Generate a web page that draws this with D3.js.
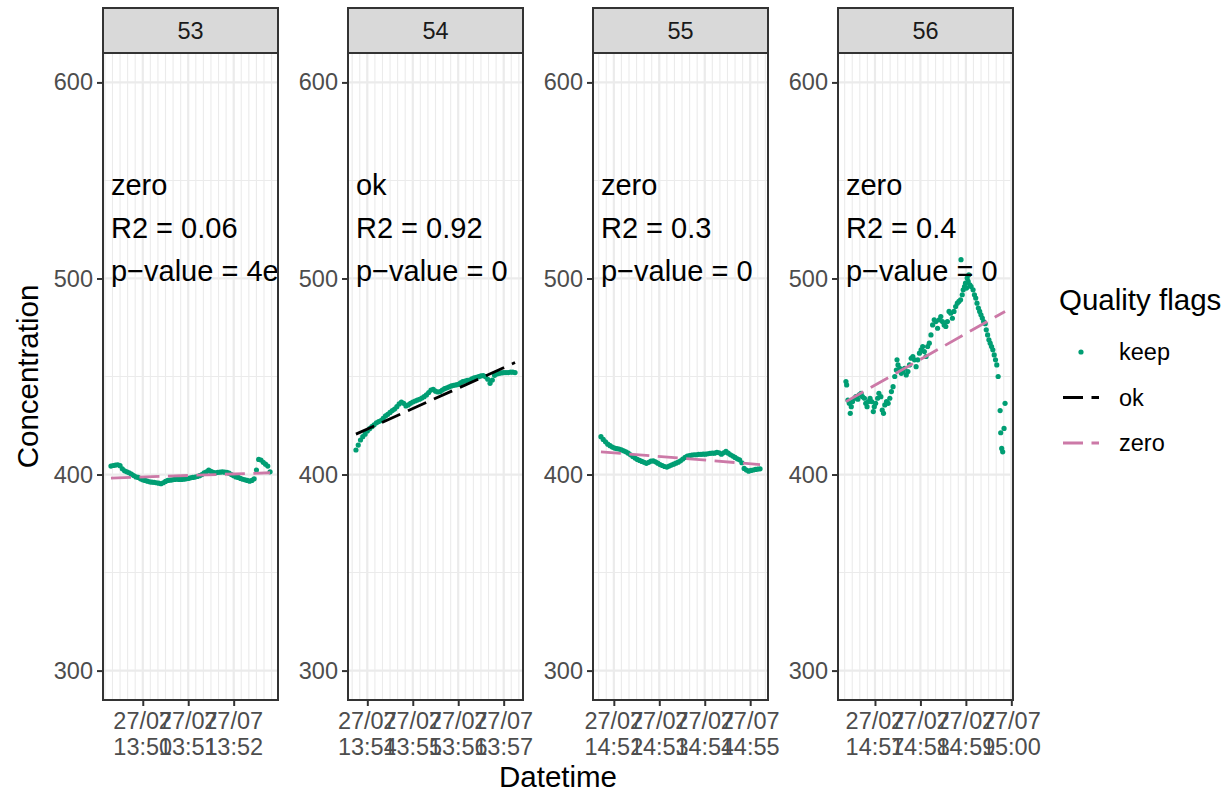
<!DOCTYPE html>
<html>
<head>
<meta charset="utf-8">
<script src="https://cdn.jsdelivr.net/npm/d3@7"></script>
<style>
  body { margin: 0; background: #ffffff; }
  text { font-family: "Liberation Sans", Arial, Helvetica, sans-serif; }
</style>
</head>
<body>
<svg id="chart" width="1227" height="793"></svg>
<script>
// ---- data -------------------------------------------------------------
const panelIds = ["53", "54", "55", "56"];
const flagLabels = ["zero", "ok", "zero", "zero"];
const r2Labels = ["0.06", "0.92", "0.3", "0.4"];
const pLabels = ["4e\u221204", "0", "0", "0"];

// regularly sampled chambers (one reading every 3 s)
const sampleStart53 = "2023-07-27T13:49:18Z";
const sampleStart54 = "2023-07-27T13:53:45Z";
const sampleStart55 = "2023-07-27T14:51:43Z";
const sampleStepSec = 3;

const conc53 = [
  404.3,404.6,404.8,405.0,404.5,402.9,401.9,401.4,400.9,400.2,
  399.5,398.8,398.5,397.8,397.3,397.0,396.6,396.3,396.1,396.0,
  395.8,395.6,395.3,395.8,396.5,397.0,397.1,397.3,397.5,397.6,
  397.5,397.5,397.6,397.8,398.0,398.3,398.5,398.7,399.0,399.4,
  400.0,400.9,401.4,402.3,401.6,401.1,400.9,401.1,401.2,401.4,
  401.2,401.1,400.7,400.0,399.4,398.8,398.5,398.0,397.6,397.3,
  397.0,396.6,397.0,397.8,402.3,407.7,407.4,406.2,405.3,404.3,
  401.4
];
const conc54 = [
  412.5,415.0,417.6,419.3,420.6,422.2,423.4,424.4,425.4,426.4,
  427.0,427.5,428.7,429.9,430.7,431.7,432.6,433.4,434.6,436.0,
  437.0,436.3,435.0,435.5,436.3,437.0,437.5,438.0,438.4,439.0,
  439.7,440.6,441.8,443.1,443.5,442.5,442.1,442.3,443.1,443.8,
  444.2,444.7,445.2,445.5,445.7,446.0,446.7,447.4,447.7,448.1,
  448.2,448.8,449.3,449.6,449.9,450.3,450.5,449.9,448.6,446.5,
  448.2,450.6,451.3,451.6,451.8,452.0,452.0,452.0,452.2,452.2,
  452.0
];
const conc55 = [
  419.3,417.9,416.7,415.5,414.7,414.0,413.5,413.2,413.0,412.6,
  412.1,411.6,410.9,410.1,409.2,408.4,407.7,407.2,406.7,406.2,
  405.7,406.2,406.8,407.0,406.5,405.8,405.1,404.6,404.1,403.8,
  404.3,404.8,405.3,405.8,406.3,407.0,407.9,408.7,409.4,409.7,
  409.9,410.1,410.1,410.3,410.3,410.4,410.4,410.6,410.8,410.9,
  410.9,411.3,411.1,410.4,411.1,411.8,410.9,410.1,409.4,408.7,
  408.0,407.5,406.0,403.1,402.3,401.7,402.1,402.3,402.6,402.8,
  402.9
];

// chamber 56: irregular readings, seconds after its start time
const sampleStart56 = "2023-07-27T14:56:20Z";
const offsets56 = [
  1.7,2.6,4.3,6.1,7.4,8.7,10.4,13.0,14.8,17.4,
  19.1,21.7,23.5,26.1,27.8,29.6,31.3,33.5,35.6,37.8,
  39.1,40.9,43.5,45.2,47.8,49.6,51.3,53.0,55.2,57.4,
  59.6,61.7,63.9,66.1,68.2,69.1,70.4,72.6,74.8,76.9,
  79.1,81.3,83.5,85.6,87.8,90.0,92.2,94.3,96.5,98.7,
  100.9,103.0,105.2,107.4,109.5,111.7,113.9,116.1,118.2,120.4,
  122.6,124.8,126.9,129.1,131.3,133.5,135.6,137.8,140.0,142.2,
  144.3,146.5,148.7,150.8,153.0,153.6,155.2,156.5,158.2,159.5,
  160.8,161.7,163.0,163.9,165.2,166.9,169.5,171.3,173.0,174.7,
  176.5,178.2,179.9,181.7,183.4,185.6,186.9,188.7,190.4,192.1,
  193.9,195.6,197.4,199.1,200.8,202.6,205.2,206.0,207.3,208.6,
  210.4,211.7
];
const conc56 = [
  447.4,445.7,438.0,436.3,431.2,434.6,437.2,438.9,439.7,438.4,
  440.6,441.4,439.7,438.9,436.3,434.6,437.2,438.9,437.2,432.1,
  434.6,436.3,438.9,441.4,439.7,432.9,431.2,435.5,437.2,436.3,
  438.9,442.3,444.8,450.0,453.3,458.5,455.9,454.2,451.6,452.5,
  454.2,450.8,452.5,455.9,459.3,460.2,458.5,455.0,458.5,461.9,
  463.6,465.3,462.7,460.2,465.3,467.0,471.2,476.3,478.9,478.0,
  474.6,478.9,480.6,478.0,476.3,475.5,478.0,483.2,482.3,479.7,
  483.2,485.7,487.4,488.3,489.1,509.6,491.7,494.2,495.9,497.6,
  495.1,500.2,498.5,501.9,496.8,495.9,494.2,491.7,490.0,487.4,
  484.9,483.2,481.5,479.8,478.0,476.9,473.8,471.2,468.7,467.0,
  465.3,463.6,461.0,458.5,455.9,450.0,432.6,421.3,413.3,411.6,
  423.5,436.3
];

// linear fit evaluated at the first and last reading of each chamber
const fitStart = [398.2, 420.6, 411.6, 437.2];
const fitEnd   = [400.9, 457.1, 405.1, 483.2];

const yLimits = [300, 600];
const yTicks = [300, 400, 500, 600];
const yMinorTicks = [350, 450, 550];
const legendKeys = ["keep", "ok", "zero"];

// ---- styling ----------------------------------------------------------
const colKeep = "#009E73";
const flagColour = { ok: "#000000", zero: "#CC79A7" };
const gridCol = "#EBEBEB";
const frameCol = "#333333";
const tickTextCol = "#4D4D4D";
const dash = "20,8.5";
const tickFont = 23.5, titleFont = 29.5, annFont = 29;
const dotR = 2.6;

const panelW = 175, panelStep = 245, firstLeft = 103;
const panelTop = 53, panelBottom = 700, stripTop = 8;

// ---- assemble the series ---------------------------------------------
function regular(startIso, values) {
  const t0 = new Date(startIso).getTime();
  return values.map((v, i) => ({ t: new Date(t0 + i * sampleStepSec * 1000), v }));
}
const series = [
  regular(sampleStart53, conc53),
  regular(sampleStart54, conc54),
  regular(sampleStart55, conc55),
  offsets56.map((s, i) => ({ t: new Date(new Date(sampleStart56).getTime() + s * 1000), v: conc56[i] }))
];

const svg = d3.select("#chart");
svg.append("rect").attr("width", 1227).attr("height", 793).attr("fill", "#fff");

const ySpan = yLimits[1] - yLimits[0];
const y = d3.scaleLinear()
  .domain([yLimits[0] - 0.05 * ySpan, yLimits[1] + 0.05 * ySpan])
  .range([panelBottom, panelTop]);

const fmtDay = d3.utcFormat("%d/%m");
const fmtTime = d3.utcFormat("%H:%M");

panelIds.forEach((id, k) => {
  const data = series[k];
  const left = firstLeft + k * panelStep;
  const ext = d3.extent(data, d => d.t);
  const span = ext[1] - ext[0];
  const x = d3.scaleUtc()
    .domain([new Date(+ext[0] - 0.05 * span), new Date(+ext[1] + 0.05 * span)])
    .range([left, left + panelW]);

  const g = svg.append("g");
  const clipId = "clip" + id;
  svg.append("clipPath").attr("id", clipId)
    .append("rect").attr("x", left).attr("y", panelTop)
    .attr("width", panelW).attr("height", panelBottom - panelTop);

  // grid
  const grid = g.append("g");
  const minorX = x.ticks(d3.utcSecond.every(10));
  const majorX = x.ticks(d3.utcMinute.every(1));
  grid.selectAll(".vx").data(minorX).join("line")
    .attr("x1", d => x(d)).attr("x2", d => x(d))
    .attr("y1", panelTop).attr("y2", panelBottom)
    .attr("stroke", gridCol).attr("stroke-width", 1.1);
  grid.selectAll(".hy").data(yMinorTicks).join("line")
    .attr("x1", left).attr("x2", left + panelW)
    .attr("y1", d => y(d)).attr("y2", d => y(d))
    .attr("stroke", gridCol).attr("stroke-width", 1.1);
  grid.selectAll(".vX").data(majorX).join("line")
    .attr("x1", d => x(d)).attr("x2", d => x(d))
    .attr("y1", panelTop).attr("y2", panelBottom)
    .attr("stroke", gridCol).attr("stroke-width", 2.2);
  grid.selectAll(".hY").data(yTicks).join("line")
    .attr("x1", left).attr("x2", left + panelW)
    .attr("y1", d => y(d)).attr("y2", d => y(d))
    .attr("stroke", gridCol).attr("stroke-width", 2.2);

  // readings and fit
  const body = g.append("g").attr("clip-path", `url(#${clipId})`);
  body.selectAll("circle").data(data).join("circle")
    .attr("cx", d => x(d.t)).attr("cy", d => y(d.v)).attr("r", dotR)
    .attr("fill", colKeep);
  body.append("line")
    .attr("x1", x(ext[0])).attr("y1", y(fitStart[k]))
    .attr("x2", x(ext[1])).attr("y2", y(fitEnd[k]))
    .attr("stroke", flagColour[flagLabels[k]]).attr("stroke-width", 2.8)
    .attr("stroke-dasharray", dash);

  // annotation
  const ann = body.append("g").attr("font-size", annFont).attr("fill", "#000");
  const ax = x(ext[0]);
  [flagLabels[k], "R2 = " + r2Labels[k], "p\u2212value = " + pLabels[k]].forEach((s, i) => {
    ann.append("text").attr("x", ax).attr("y", panelTop + 142 + i * 43).text(s);
  });

  // frame
  g.append("rect").attr("x", left).attr("y", panelTop)
    .attr("width", panelW).attr("height", panelBottom - panelTop)
    .attr("fill", "none").attr("stroke", frameCol).attr("stroke-width", 2);

  // strip
  g.append("rect").attr("x", left).attr("y", stripTop)
    .attr("width", panelW).attr("height", panelTop - stripTop)
    .attr("fill", "#D9D9D9").attr("stroke", frameCol).attr("stroke-width", 2);
  g.append("text").attr("x", left + panelW / 2).attr("y", (stripTop + panelTop) / 2)
    .attr("text-anchor", "middle").attr("dominant-baseline", "central")
    .attr("font-size", tickFont).attr("fill", "#1A1A1A").text(id);

  // y axis
  const yAxis = g.append("g").attr("transform", `translate(${left},0)`)
    .call(d3.axisLeft(y).tickValues(yTicks).tickSize(6).tickPadding(4));
  yAxis.select(".domain").remove();
  yAxis.selectAll("line").attr("stroke", frameCol).attr("stroke-width", 2);
  yAxis.selectAll("text").attr("font-size", tickFont).attr("fill", tickTextCol)
    .attr("font-family", "Liberation Sans, Arial, sans-serif");

  // x axis
  const xAxis = g.append("g").attr("transform", `translate(0,${panelBottom})`)
    .call(d3.axisBottom(x).tickValues(majorX).tickSize(6).tickFormat(() => ""));
  xAxis.select(".domain").remove();
  xAxis.selectAll("line").attr("stroke", frameCol).attr("stroke-width", 2);
  const xl = g.append("g").attr("font-size", tickFont).attr("fill", tickTextCol).attr("text-anchor", "middle");
  majorX.forEach(d => {
    const t = xl.append("text").attr("x", x(d)).attr("y", panelBottom + 29);
    t.append("tspan").attr("x", x(d)).text(fmtDay(d));
    t.append("tspan").attr("x", x(d)).attr("dy", 26).text(fmtTime(d));
  });
});

// axis titles
svg.append("text").attr("transform", `translate(38,${(panelTop + panelBottom) / 2}) rotate(-90)`)
  .attr("text-anchor", "middle").attr("font-size", titleFont).attr("fill", "#000").text("Concentration");
svg.append("text").attr("x", firstLeft + (3 * panelStep + panelW) / 2).attr("y", 787)
  .attr("text-anchor", "middle").attr("font-size", titleFont).attr("fill", "#000").text("Datetime");

// legend
const lg = svg.append("g");
lg.append("text").attr("x", 1059).attr("y", 310).attr("font-size", titleFont).attr("fill", "#000").text("Quality flags");
legendKeys.forEach((key, i) => {
  const cy = 352 + i * 45.5;
  if (key === "keep") {
    lg.append("circle").attr("cx", 1081).attr("cy", cy).attr("r", dotR).attr("fill", colKeep);
  } else {
    lg.append("line").attr("x1", 1063).attr("x2", 1099).attr("y1", cy).attr("y2", cy)
      .attr("stroke", flagColour[key]).attr("stroke-width", 2.8).attr("stroke-dasharray", dash);
  }
  lg.append("text").attr("x", 1119).attr("y", cy).attr("dominant-baseline", "central")
    .attr("font-size", tickFont).attr("fill", "#000").text(key);
});
</script>
</body>
</html>
